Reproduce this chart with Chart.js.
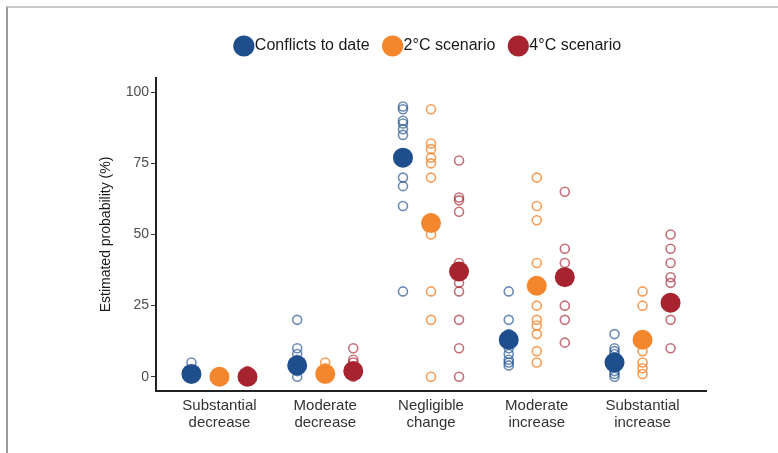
<!DOCTYPE html>
<html lang="en">
<head>
<meta charset="UTF-8">
<title>Estimated probability of conflict change</title>
<style>
  html, body { margin: 0; padding: 0; background: #fff; }
  #frame {
    position: absolute; left: 6px; top: 6px; width: 772px; height: 447px;
    border-top: 2px solid #c9c9c9; border-left: 2px solid #9a9a9a; box-sizing: border-box;
  }
  #wrap { position: absolute; left: 0; top: 0; width: 778px; height: 453px; }
</style>
</head>
<body>
<div id="frame"></div>
<div id="wrap"><canvas id="chart" width="778" height="453"></canvas></div>

<script src="https://cdn.jsdelivr.net/npm/chart.js"></script>
<script>
  const categories = [
    ["Substantial", "decrease"],
    ["Moderate", "decrease"],
    ["Negligible", "change"],
    ["Moderate", "increase"],
    ["Substantial", "increase"]
  ];
  const seriesNames = ["Conflicts to date", "2°C scenario", "4°C scenario"];
  const yTicks = [0, 25, 50, 75, 100];

  // mean estimate per category (big dots)
  const conflictsMean = [1, 4, 77, 13, 5];
  const twoDegreeMean = [0, 1, 54, 32, 13];
  const fourDegreeMean = [0, 2, 37, 35, 26];

  // individual expert estimates per category (open circles)
  const conflictsExperts = [
    [5, 1, 0],
    [20, 10, 8, 6, 2, 0],
    [95, 94, 90, 89, 87, 85, 70, 67, 60, 30],
    [30, 20, 15, 10, 8, 6, 5, 4],
    [15, 10, 9, 8, 2, 1, 0]
  ];
  const twoDegreeExperts = [
    [0],
    [5, 3, 0],
    [94, 82, 80, 77, 75, 70, 50, 30, 20, 0],
    [70, 60, 55, 40, 25, 20, 18, 15, 9, 5],
    [30, 25, 9, 5, 3, 1]
  ];
  const fourDegreeExperts = [
    [2, 0],
    [10, 6, 5, 0],
    [76, 63, 62, 58, 40, 33, 30, 20, 10, 0],
    [65, 45, 40, 25, 20, 12],
    [50, 45, 40, 35, 33, 20, 10]
  ];

  const solidColors = ["#1f4e8c", "#f4862e", "#a6232f"];
  const ringColors = ["rgba(31,78,140,0.65)", "rgba(244,134,46,0.8)", "rgba(166,35,47,0.65)"];
  const dodge = [-0.265, 0, 0.265];
  const fontFamily = "'Liberation Sans', Arial, sans-serif";

  const meanSets = [conflictsMean, twoDegreeMean, fourDegreeMean];
  const expertSets = [conflictsExperts, twoDegreeExperts, fourDegreeExperts];

  const datasets = [];
  // means first so they are drawn on top
  meanSets.forEach((vals, s) => {
    datasets.push({
      label: seriesNames[s],
      data: vals.map((v, i) => ({ x: i + 1 + dodge[s], y: v })),
      backgroundColor: solidColors[s],
      borderColor: solidColors[s],
      borderWidth: 0,
      pointRadius: 10,
      pointHoverRadius: 10
    });
  });
  expertSets.forEach((groups, s) => {
    datasets.push({
      label: seriesNames[s] + " (experts)",
      data: groups.flatMap((g, i) => g.map(v => ({ x: i + 1 + dodge[s], y: v }))),
      backgroundColor: "rgba(255,255,255,0)",
      borderColor: ringColors[s],
      borderWidth: 1.6,
      pointRadius: 4.5,
      pointHoverRadius: 4.5
    });
  });

  // extra room between legend and plot
  const legendMargin = {
    id: "legendMargin",
    beforeInit(chart) {
      const fit = chart.legend.fit;
      chart.legend.fit = function () {
        fit.bind(chart.legend)();
        this.height += 14;
      };
    },
    beforeDraw(chart) {
      // centre the legend over the plot panel
      chart.legend.left = chart.chartArea.left;
      chart.legend.right = chart.chartArea.right;
    }
  };

  new Chart(document.getElementById("chart"), {
    type: "scatter",
    data: { datasets },
    plugins: [legendMargin],
    options: {
      responsive: false,
      animation: false,
      layout: { padding: { top: 18, left: 98, right: 72, bottom: 0 } },
      plugins: {
        tooltip: { enabled: false },
        legend: {
          position: "top",
          labels: {
            filter: item => item.datasetIndex < 3,
            usePointStyle: true,
            pointStyle: "circle",
            boxWidth: 6,
            boxHeight: 15,
            padding: 20,
            color: "#1a1a1a",
            font: { family: fontFamily, size: 16 }
          }
        }
      },
      scales: {
        x: {
          type: "linear",
          min: 0.4,
          max: 5.6,
          afterBuildTicks: scale => { scale.ticks = categories.map((c, i) => ({ value: i + 1 })); },
          afterFit: scale => { scale.height = 62; },
          grid: { display: false, drawTicks: false },
          border: { display: true, color: "#222", width: 2 },
          ticks: {
            padding: 7,
            autoSkip: false,
            maxRotation: 0,
            color: "#333",
            font: { family: fontFamily, size: 15, lineHeight: 1.1 },
            callback: v => categories[v - 1]
          }
        },
        y: {
          min: -5,
          max: 105,
          afterBuildTicks: scale => { scale.ticks = yTicks.map(v => ({ value: v })); },
          afterFit: scale => { scale.width = 58; },
          grid: { display: true, drawOnChartArea: false, drawTicks: true, tickLength: 5, color: "#333", tickColor: "#333" },
          border: { display: true, color: "#222", width: 2 },
          ticks: {
            padding: 2,
            color: "#4d4d4d",
            font: { family: fontFamily, size: 14 }
          },
          title: {
            display: true,
            text: "Estimated probability (%)",
            color: "#1a1a1a",
            padding: { top: 0, bottom: 0 },
            font: { family: fontFamily, size: 14 }
          }
        }
      }
    }
  });
</script>
</body>
</html>
